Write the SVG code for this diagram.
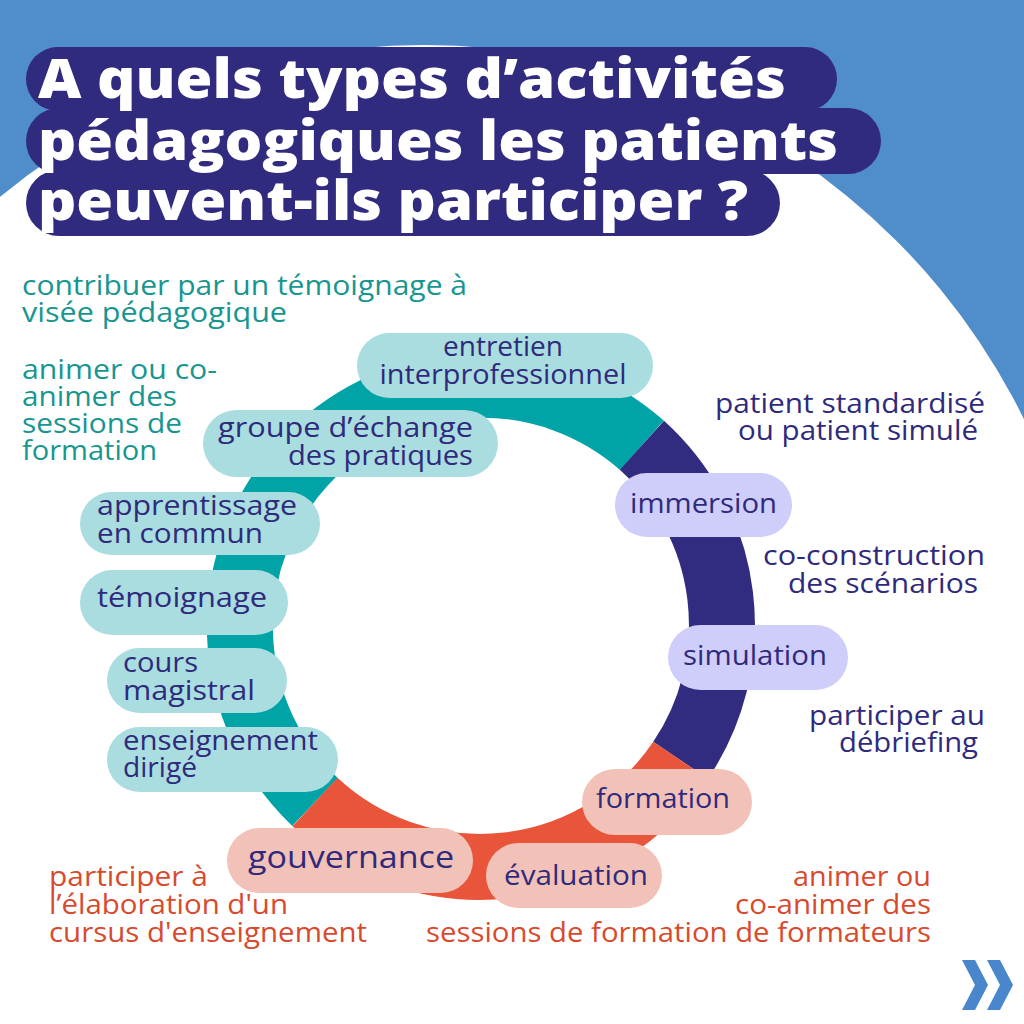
<svg xmlns="http://www.w3.org/2000/svg" width="1024" height="1024" viewBox="0 0 1024 1024">
<style>
.t{font-family:"Open Sans","Liberation Sans",sans-serif;font-size:27px;fill:#2F2A7C}
.side{font-family:"Open Sans","Liberation Sans",sans-serif;font-size:27px}
.tl{fill:#17968F}
.nv{fill:#2F2A7C}
.or{fill:#D84A2E}
.title{font-family:"Open Sans","Liberation Sans",sans-serif;font-size:54px;font-weight:800;fill:#FFFFFF}
.pT{fill:#A9DDE0}
.pN{fill:#CFCDF9}
.pO{fill:#F2C2B8}
.ring{fill:none;stroke-width:66;stroke-linecap:butt}
</style>
<rect x="0" y="0" width="1024" height="1024" fill="#4F8DCB"/>
<circle cx="424" cy="713" r="668" fill="#FFFFFF"/>
<rect x="0" y="713" width="1024" height="311" fill="#FFFFFF"/>
<g id="title">
<rect x="26" y="47" width="811" height="64" rx="32" fill="#302B7E"/>
<rect x="26" y="108" width="855" height="66" rx="33" fill="#302B7E"/>
<rect x="26" y="170" width="754" height="66" rx="33" fill="#302B7E"/>
<text class="title" x="38" y="98" textLength="748" lengthAdjust="spacingAndGlyphs">A quels types d’activités</text>
<text class="title" x="38" y="160" textLength="800" lengthAdjust="spacingAndGlyphs">pédagogiques les patients</text>
<text class="title" x="38" y="220" textLength="710" lengthAdjust="spacingAndGlyphs">peuvent-ils participer ?</text>
</g>
<g id="connectors">
<path class="ring" stroke="#00A3A6" d="M 315.0 802.0 A 242 242 0 0 1 641.9 445.2"/>
<path class="ring" stroke="#312C7F" d="M 641.9 445.2 A 242 242 0 0 1 680.6 760.3"/>
<path class="ring" stroke="#E9553A" d="M 680.6 760.3 A 242 242 0 0 1 315.0 802.0"/>
</g>
<g id="side-left" class="side tl" lengthAdjust="spacingAndGlyphs">
<text x="22" y="295" textLength="445" lengthAdjust="spacingAndGlyphs">contribuer par un témoignage à</text>
<text x="22" y="322" textLength="265" lengthAdjust="spacingAndGlyphs">visée pédagogique</text>
<text x="22" y="379" textLength="195" lengthAdjust="spacingAndGlyphs">animer ou co-</text>
<text x="22" y="406" textLength="155" lengthAdjust="spacingAndGlyphs">animer des</text>
<text x="22" y="433" textLength="160" lengthAdjust="spacingAndGlyphs">sessions de</text>
<text x="22" y="460" textLength="135" lengthAdjust="spacingAndGlyphs">formation</text>
</g>
<g id="side-right" class="side nv" text-anchor="end">
<text x="985" y="413" textLength="270" lengthAdjust="spacingAndGlyphs">patient standardisé</text>
<text x="978" y="440" textLength="240" lengthAdjust="spacingAndGlyphs">ou patient simulé</text>
<text x="985" y="565" textLength="222" lengthAdjust="spacingAndGlyphs">co-construction</text>
<text x="978" y="593" textLength="190" lengthAdjust="spacingAndGlyphs">des scénarios</text>
<text x="985" y="725" textLength="176" lengthAdjust="spacingAndGlyphs">participer au</text>
<text x="978" y="752" textLength="139" lengthAdjust="spacingAndGlyphs">débriefing</text>
</g>
<g id="side-bottom" class="side or">
<text x="49" y="886" textLength="159" lengthAdjust="spacingAndGlyphs">participer à</text>
<text x="49" y="914" textLength="239" lengthAdjust="spacingAndGlyphs">l’élaboration d'un</text>
<text x="49" y="942" textLength="318" lengthAdjust="spacingAndGlyphs">cursus d'enseignement</text>
<text x="931" y="886" text-anchor="end" textLength="138" lengthAdjust="spacingAndGlyphs">animer ou</text>
<text x="931" y="914" text-anchor="end" textLength="196" lengthAdjust="spacingAndGlyphs">co-animer des</text>
<text x="931" y="942" text-anchor="end" textLength="505" lengthAdjust="spacingAndGlyphs">sessions de formation de formateurs</text>
</g>
<g id="node-entretien">
<rect class="pT" x="357" y="333" width="296" height="65" rx="32.5"/>
<text class="t" x="503" y="356" text-anchor="middle" textLength="120" lengthAdjust="spacingAndGlyphs">entretien</text>
<text class="t" x="503" y="384" text-anchor="middle" textLength="247" lengthAdjust="spacingAndGlyphs">interprofessionnel</text>
</g>
<g id="node-groupe">
<rect class="pT" x="203" y="410" width="295" height="67" rx="33.5"/>
<text class="t" x="473" y="437" text-anchor="end" textLength="255" lengthAdjust="spacingAndGlyphs">groupe d’échange</text>
<text class="t" x="473" y="465" text-anchor="end" textLength="185" lengthAdjust="spacingAndGlyphs">des pratiques</text>
</g>
<g id="node-apprentissage">
<rect class="pT" x="80" y="492" width="240" height="63" rx="31.5"/>
<text class="t" x="97" y="515" textLength="200" lengthAdjust="spacingAndGlyphs">apprentissage</text>
<text class="t" x="97" y="543" textLength="166" lengthAdjust="spacingAndGlyphs">en commun</text>
</g>
<g id="node-temoignage">
<rect class="pT" x="80" y="570" width="208" height="65" rx="32.5"/>
<text class="t" x="97" y="607" textLength="170" lengthAdjust="spacingAndGlyphs">témoignage</text>
</g>
<g id="node-cours">
<rect class="pT" x="107" y="648" width="180" height="65" rx="32.5"/>
<text class="t" x="123" y="672" textLength="75" lengthAdjust="spacingAndGlyphs">cours</text>
<text class="t" x="123" y="700" textLength="132" lengthAdjust="spacingAndGlyphs">magistral</text>
</g>
<g id="node-enseignement">
<rect class="pT" x="107" y="727" width="231" height="65" rx="32.5"/>
<text class="t" x="123" y="750" textLength="195" lengthAdjust="spacingAndGlyphs">enseignement</text>
<text class="t" x="123" y="777" textLength="74" lengthAdjust="spacingAndGlyphs">dirigé</text>
</g>
<g id="node-immersion">
<rect class="pN" x="615" y="473" width="177" height="64" rx="32"/>
<text class="t" x="630" y="513" textLength="147" lengthAdjust="spacingAndGlyphs">immersion</text>
</g>
<g id="node-simulation">
<rect class="pN" x="668" y="625" width="180" height="65" rx="32.5"/>
<text class="t" x="683" y="665" textLength="144" lengthAdjust="spacingAndGlyphs">simulation</text>
</g>
<g id="node-formation">
<rect class="pO" x="582" y="769" width="170" height="66" rx="33"/>
<text class="t" x="596" y="808" textLength="134" lengthAdjust="spacingAndGlyphs">formation</text>
</g>
<g id="node-gouvernance">
<rect class="pO" x="227" y="828" width="246" height="65" rx="32.5"/>
<text class="t" x="248" y="868" style="font-size:31px" textLength="206" lengthAdjust="spacingAndGlyphs">gouvernance</text>
</g>
<g id="node-evaluation">
<rect class="pO" x="486" y="843" width="176" height="65" rx="32.5"/>
<text class="t" x="504" y="885" textLength="144" lengthAdjust="spacingAndGlyphs">évaluation</text>
</g>
<g id="next-arrow" fill="#4A86CC">
<polygon points="962,960 975,960 988,985 975,1010 962,1010 975,985"/>
<polygon points="987,960 1000,960 1013,985 1000,1010 987,1010 1000,985"/>
</g>
</svg>
